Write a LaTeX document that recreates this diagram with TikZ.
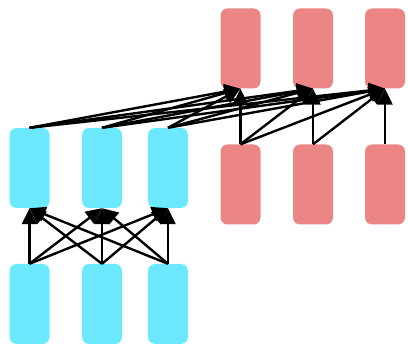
\documentclass[tikz,border=0pt]{standalone}
\usetikzlibrary{arrows.meta}
\definecolor{enccol}{RGB}{108,232,255}
\definecolor{deccol}{RGB}{236,134,134}
\newcommand{\unitbox}[4]{\node[unit, fill=#4] (#1) at ( #2 , #3 ) {};}
\newcommand{\conn}[2]{\draw[conn] (#1.north) -- (#2.south);}

\begin{document}
\begin{tikzpicture}[x=1pt, y=-1pt,
        unit/.style={rectangle, rounded corners=7pt, minimum width=40pt, minimum height=80pt, inner sep=0pt},
        conn/.style={line width=2.4pt, -{Triangle[length=16pt, width=15pt]}}]
        \useasboundingbox (0,0) rectangle (408,344);
        % input row
        \unitbox{x1}{29.5}{304}{enccol}
        \unitbox{x2}{102}{304}{enccol}
        \unitbox{x3}{168}{304}{enccol}
        % encoder row
        \unitbox{h1}{29.5}{168}{enccol}
        \unitbox{h2}{102}{168}{enccol}
        \unitbox{h3}{168}{168}{enccol}
        % decoder input row
        \unitbox{y1}{240.5}{184.5}{deccol}
        \unitbox{y2}{313}{184.5}{deccol}
        \unitbox{y3}{385}{184.5}{deccol}
        % decoder output row
        \unitbox{z1}{240.5}{48.5}{deccol}
        \unitbox{z2}{313}{48.5}{deccol}
        \unitbox{z3}{385}{48.5}{deccol}
        % input to encoder
        \conn{x1}{h1} \conn{x1}{h2} \conn{x1}{h3}
        \conn{x2}{h1} \conn{x2}{h2} \conn{x2}{h3}
        \conn{x3}{h1} \conn{x3}{h2} \conn{x3}{h3}
        % encoder to decoder
        \conn{h1}{z1} \conn{h1}{z2} \conn{h1}{z3}
        \conn{h2}{z1} \conn{h2}{z2} \conn{h2}{z3}
        \conn{h3}{z1} \conn{h3}{z2} \conn{h3}{z3}
        % decoder, earlier positions only
        \conn{y1}{z1} \conn{y1}{z2} \conn{y1}{z3}
        \conn{y2}{z2} \conn{y2}{z3}
        \conn{y3}{z3}
    \end{tikzpicture}
\end{document}
